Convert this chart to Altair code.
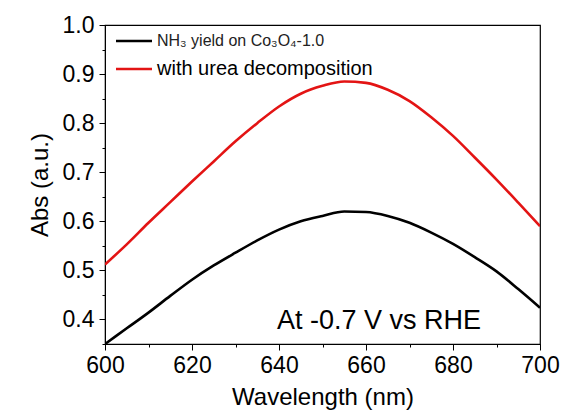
import altair as alt
import pandas as pd

# Absorbance spectra, 600-700 nm in 5 nm steps
wavelength = [600, 605, 610, 615, 620, 625, 630, 635, 640, 645, 650,
              655, 660, 665, 670, 675, 680, 685, 690, 695, 700]
abs_nh3 = [0.350, 0.382, 0.414, 0.448, 0.481, 0.510, 0.536, 0.561, 0.583, 0.600, 0.611,
           0.620, 0.619, 0.611, 0.597, 0.577, 0.554, 0.527, 0.498, 0.462, 0.424]
abs_urea = [0.512, 0.553, 0.597, 0.639, 0.681, 0.722, 0.763, 0.800, 0.834, 0.860, 0.876,
            0.885, 0.882, 0.868, 0.845, 0.812, 0.774, 0.730, 0.685, 0.638, 0.590]

series_names = ["NH\u2083 yield on Co\u2083O\u2084-1.0", "with urea decomposition"]
series_colors = ["#000000", "#e31414"]
x_ticks = [600, 610, 620, 630, 640, 650, 660, 670, 680, 690, 700]
y_ticks = [0.35, 0.40, 0.45, 0.50, 0.55, 0.60, 0.65, 0.70, 0.75, 0.80, 0.85, 0.90, 0.95, 1.00]
annotation = "At -0.7 V vs RHE"

rows = []
for name, vals in zip(series_names, [abs_nh3, abs_urea]):
    for w, v in zip(wavelength, vals):
        rows.append({"wl": w, "abs": v, "series": name})
df = pd.DataFrame(rows)

FONT = "Liberation Sans"
X_MAJOR = "datum.value % 20 === 0"
Y_MAJOR = "round(datum.value * 100) % 10 === 0"

x_axis = alt.Axis(
    values=x_ticks,
    labelExpr=f"{X_MAJOR} ? datum.label : ''",
    tickSize={"condition": {"test": X_MAJOR, "value": 6}, "value": 3},
    labelFlush=False, labelOverlap=False,
    title="Wavelength (nm)", titleFontSize=24, titleFontWeight="normal",
    titleFont=FONT, titlePadding=8,
    labelFont=FONT, labelFontSize=23, labelPadding=4,
    grid=False, domainColor="black", tickColor="black", labelColor="black",
    titleColor="black",
)
y_axis = alt.Axis(
    values=y_ticks, format=".1f",
    labelExpr=f"{Y_MAJOR} ? datum.label : ''",
    tickSize={"condition": {"test": Y_MAJOR, "value": 6}, "value": 3},
    labelFlush=False, labelOverlap=False,
    title="Abs (a.u.)", titleFontSize=24, titleFontWeight="normal",
    titleFont=FONT, titlePadding=10,
    labelFont=FONT, labelFontSize=23, labelPadding=5,
    grid=False, domainColor="black", tickColor="black", labelColor="black",
    titleColor="black",
)

lines = alt.Chart(df).mark_line(strokeWidth=2.6, clip=True, interpolate="monotone").encode(
    x=alt.X("wl:Q", scale=alt.Scale(domain=[600, 700], nice=False, zero=False), axis=x_axis),
    y=alt.Y("abs:Q", scale=alt.Scale(domain=[0.35, 1.0], nice=False, zero=False), axis=y_axis),
    color=alt.Color("series:N", scale=alt.Scale(domain=series_names, range=series_colors),
                    legend=None),
)

# Hand-placed legend in the upper-left corner of the plot
leg1_line = alt.Chart().mark_rule(color=series_colors[0], strokeWidth=2.6).encode(
    x=alt.value(11), x2=alt.value(47), y=alt.value(16))
leg1_text = alt.Chart().mark_text(align="left", baseline="middle", font=FONT,
                                  fontSize=16, color="#222222").encode(
    x=alt.value(52), y=alt.value(16), text=alt.value(series_names[0]))
leg2_line = alt.Chart().mark_rule(color=series_colors[1], strokeWidth=2.6).encode(
    x=alt.value(11), x2=alt.value(47), y=alt.value(44))
leg2_text = alt.Chart().mark_text(align="left", baseline="middle", font=FONT,
                                  fontSize=20, color="black").encode(
    x=alt.value(52), y=alt.value(44), text=alt.value(series_names[1]))

note = alt.Chart().mark_text(align="left", baseline="middle", font=FONT,
                             fontSize=27, color="black").encode(
    x=alt.value(172), y=alt.value(296), text=alt.value(annotation))

chart = alt.layer(lines, leg1_line, leg1_text, leg2_line, leg2_text, note).properties(
    width=435, height=319,
    autosize=alt.AutoSizeParams(type="none"),
    padding={"left": 105, "top": 25, "right": 24, "bottom": 70},
    background="white",
).configure_view(stroke="black", strokeWidth=1.2)

chart.save("out.html", embed_options={"renderer": "svg", "actions": False})
